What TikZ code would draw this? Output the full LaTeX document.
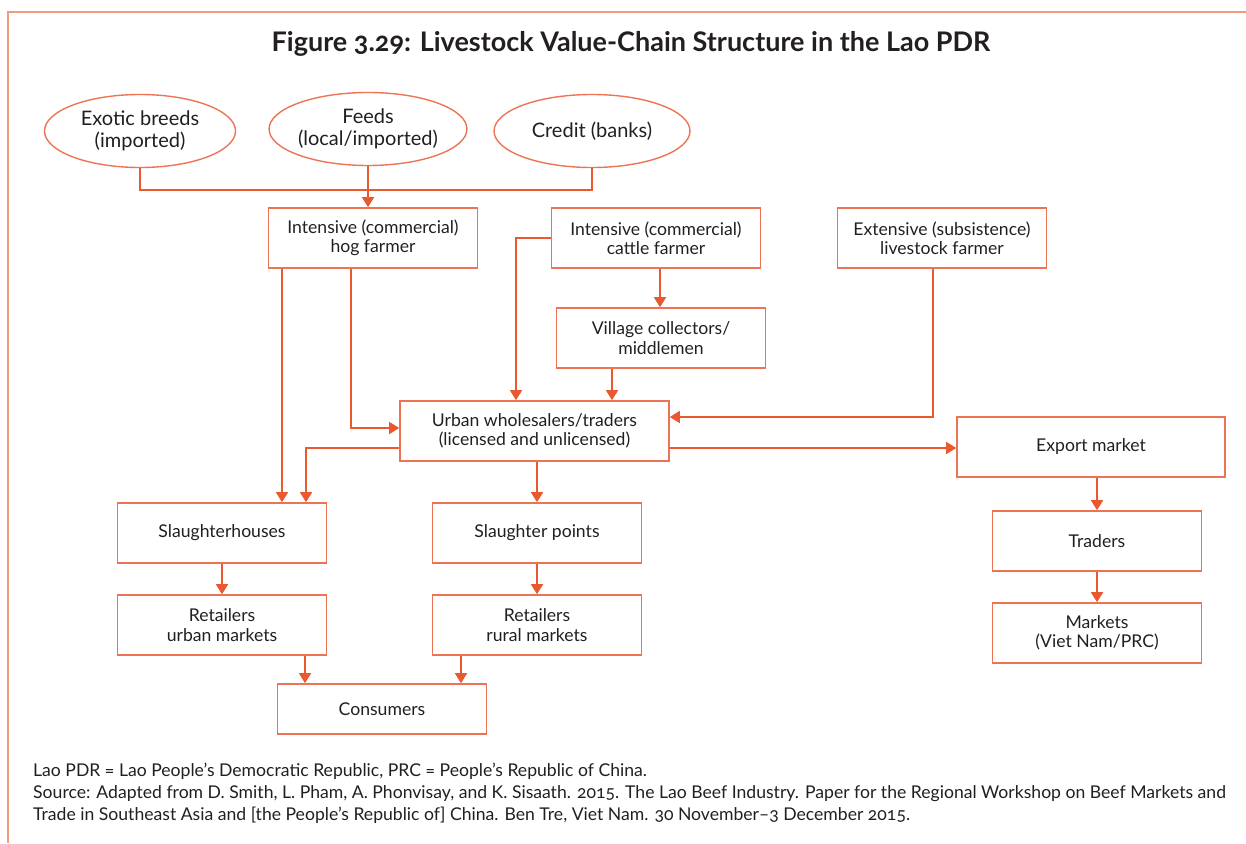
\documentclass[tikz,border=0pt]{standalone}
\usepackage{fontspec}
\setmainfont{Lato}[Numbers=OldStyle]
\usetikzlibrary{arrows.meta,shapes.geometric,positioning}
\definecolor{chainred}{HTML}{E9582F}
\definecolor{boxline}{HTML}{EE7354}
\definecolor{framecol}{HTML}{F29A7E}
\definecolor{inkcol}{HTML}{231F20}

\begin{document}
\begin{tikzpicture}[x=1pt, y=-1pt,
    box/.style={draw=boxline, line width=1.6pt, rectangle, minimum width=209pt, minimum height=60pt,
        align=center, text=inkcol, font=\fontsize{17.6}{19.5}\selectfont},
    source/.style={draw=boxline, line width=1.4pt, ellipse, minimum width=191pt, minimum height=73pt,
        inner sep=0pt, align=center, text=inkcol, font=\fontsize{20}{21.5}\selectfont},
    link/.style={draw=chainred, line width=1.6pt, -{Triangle[width=12pt,length=10pt]}},
    feed/.style={draw=chainred, line width=1.6pt}]
    \useasboundingbox (0,0) rectangle (1246,843);

    % Frame and title
    \draw[framecol, line width=1.2pt] (1246,12) -- (8,12) -- (8,843);
    \node[text=inkcol, font=\fontsize{27}{30}\selectfont\bfseries] (title) at (631,44)
        {Figure 3.29: Livestock Value-Chain Structure in the Lao PDR};

    % Inputs
    \node[source] (breeds) at (140,131) {Exotic breeds\\(imported)};
    \node[source, minimum width=194pt] (feeds) at (368,129) {Feeds\\(local/imported)};
    \node[source, minimum width=196pt] (credit) at (592,131) {Credit (banks)};

    % Farmers
    \node[box] (hog) at (373,238) {Intensive (commercial)\\hog farmer};
    \node[box] (cattle) at (656,238) {Intensive (commercial)\\cattle farmer};
    \node[box] (extensive) at (942,238) {Extensive (subsistence)\\livestock farmer};
    \node[box] (village) at (661,338) {Village collectors/\\middlemen};

    % Traders and processing
    \node[box, minimum width=269pt] (urban) at (534.5,431) {Urban wholesalers/traders\\(licensed and unlicensed)};
    \node[box, minimum width=268pt] (export) at (1091,447) {Export market};
    \node[box] (slhouse) at (222,533) {Slaughterhouses};
    \node[box] (slpoint) at (537,533) {Slaughter points};
    \node[box] (traders) at (1097,541) {Traders};

    % Retail and consumers
    \node[box] (urbanretail) at (222,625) {Retailers\\urban markets};
    \node[box] (ruralretail) at (537,625) {Retailers\\rural markets};
    \node[box] (markets) at (1097,633) {Markets\\(Viet Nam/PRC)};
    \node[box, minimum height=50pt] (consumers) at (382,709) {Consumers};

    % Notes
    \node[anchor=north west, align=left, inner sep=0pt, text=inkcol, font=\fontsize{17.6}{22}\selectfont] (notes) at (33,763)
        {Lao PDR = Lao People’s Democratic Republic, PRC = People’s Republic of China.\\
        Source: Adapted from D. Smith, L. Pham, A. Phonvisay, and K. Sisaath. 2015. The Lao Beef Industry. Paper for the Regional Workshop on Beef Markets and\\
        Trade in Southeast Asia and [the People’s Republic of] China. Ben Tre, Viet Nam. 30 November–3 December 2015.};

    % Arrows
    \coordinate (merge) at (368,190);
    \draw[feed] (breeds.south) |- (merge) -| (credit.south);
    \draw[link] (feeds.south) -- (hog.north -| feeds.south);
    \draw[link] (hog.south -| 282,0) -- (slhouse.north -| 282,0);
    \draw[link] (hog.south -| 351,0) |- (urban.west |- 0,428);
    \draw[link] (cattle.west) -| (urban.north -| 516,0);
    \draw[link] (cattle.south -| 660,0) -- (village.north -| 660,0);
    \draw[link] (village.south -| 612,0) -- (urban.north -| 612,0);
    \draw[link] (extensive.south -| 933,0) |- (urban.east |- 0,417);
    \draw[link] (urban.west |- 0,448) -| (slhouse.north -| 306,0);
    \draw[link] (urban.south -| slpoint.north) -- (slpoint.north);
    \draw[link] (urban.east |- 0,448) -- (export.west |- 0,448);
    \draw[link] (export.south -| traders.north) -- (traders.north);
    \draw[link] (traders.south) -- (markets.north);
    \draw[link] (slhouse.south) -- (urbanretail.north);
    \draw[link] (slpoint.south) -- (ruralretail.north);
    \draw[link] (urbanretail.south -| 305,0) -- (consumers.north -| 305,0);
    \draw[link] (ruralretail.south -| 461,0) -- (consumers.north -| 461,0);
\end{tikzpicture}
\end{document}
